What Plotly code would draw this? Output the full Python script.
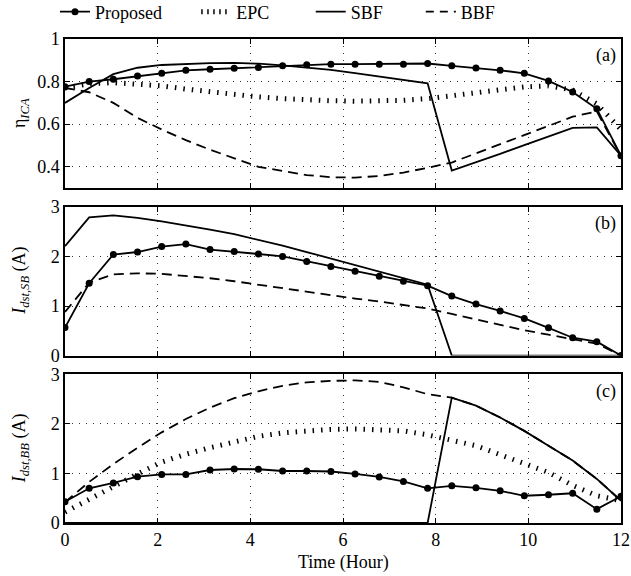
import plotly.graph_objects as go

# ---------------- data ----------------
n_pts = 24
time_h = [i * 12 / 23 for i in range(n_pts)]  # sample times (hours)

# panel (a): eta_ICA
prop_a = [0.776, 0.800, 0.811, 0.826, 0.839, 0.853, 0.858, 0.863, 0.866, 0.874, 0.879, 0.882,
          0.882, 0.882, 0.882, 0.885, 0.874, 0.864, 0.853, 0.839, 0.803, 0.751, 0.672, 0.452]
epc_a = [0.770, 0.790, 0.795, 0.790, 0.780, 0.765, 0.752, 0.740, 0.728, 0.720, 0.713, 0.710,
         0.708, 0.708, 0.712, 0.720, 0.735, 0.750, 0.765, 0.775, 0.780, 0.760, 0.695, 0.575]
sbf_a = [0.700, 0.770, 0.835, 0.865, 0.878, 0.884, 0.887, 0.888, 0.884, 0.876, 0.866, 0.855,
         0.840, 0.824, 0.808, 0.792, 0.382, 0.420, 0.461, 0.502, 0.543, 0.583, 0.585, 0.452]
bbf_a = [0.770, 0.750, 0.700, 0.630, 0.575, 0.525, 0.480, 0.440, 0.400, 0.380, 0.361, 0.351,
         0.349, 0.357, 0.373, 0.395, 0.420, 0.463, 0.506, 0.549, 0.592, 0.635, 0.660, 0.450]

# panel (b): I_dst,SB (A)
prop_b = [0.565, 1.46, 2.04, 2.09, 2.20, 2.25, 2.14, 2.10, 2.05, 2.00, 1.90, 1.80,
          1.70, 1.60, 1.50, 1.41, 1.20, 1.04, 0.90, 0.75, 0.56, 0.36, 0.28, 0.00]
sbf_b = [2.21, 2.79, 2.83, 2.78, 2.71, 2.63, 2.54, 2.45, 2.34, 2.22, 2.09, 1.96,
         1.83, 1.70, 1.57, 1.43, 0.00, 0.00, 0.00, 0.00, 0.00, 0.00, 0.00, 0.00]
bbf_b = [0.88, 1.47, 1.64, 1.66, 1.65, 1.61, 1.56, 1.50, 1.43, 1.35, 1.28, 1.22,
         1.15, 1.09, 1.02, 0.95, 0.84, 0.73, 0.62, 0.51, 0.42, 0.33, 0.24, 0.00]

# panel (c): I_dst,BB (A)
prop_c = [0.43, 0.70, 0.81, 0.935, 0.98, 0.98, 1.07, 1.09, 1.085, 1.05, 1.05, 1.04,
          0.99, 0.93, 0.84, 0.70, 0.75, 0.71, 0.65, 0.55, 0.57, 0.60, 0.28, 0.54]
epc_c = [0.22, 0.48, 0.75, 0.99, 1.23, 1.39, 1.52, 1.64, 1.75, 1.82, 1.86, 1.89,
         1.90, 1.89, 1.86, 1.78, 1.67, 1.56, 1.38, 1.19, 1.02, 0.76, 0.55, 0.45]
sbf_c = [0.00, 0.00, 0.00, 0.00, 0.00, 0.00, 0.00, 0.00, 0.00, 0.00, 0.00, 0.00,
         0.00, 0.00, 0.00, 0.00, 2.53, 2.37, 2.13, 1.86, 1.56, 1.26, 0.89, 0.45]
bbf_c = [0.42, 0.83, 1.19, 1.52, 1.83, 2.10, 2.33, 2.52, 2.66, 2.77, 2.84, 2.87,
         2.88, 2.85, 2.74, 2.60, 2.53, 2.37, 2.13, 1.86, 1.56, 1.26, 0.89, 0.45]

x_ticks = [0, 2, 4, 6, 8, 10, 12]
series_names = ["Proposed", "EPC", "SBF", "BBF"]
panel_labels = ["(a)", "(b)", "(c)"]

# ---------------- figure ----------------
FONT = "Liberation Serif, Times New Roman, serif"
FS = 18
fig = go.Figure()

panels = [
    ("x", "y", prop_a, epc_a, sbf_a, bbf_a),
    ("x2", "y2", prop_b, None, sbf_b, bbf_b),
    ("x3", "y3", prop_c, epc_c, sbf_c, bbf_c),
]

BBF_LINE = dict(color="black", width=1.8, dash="10px,6px")
SBF_LINE = dict(color="black", width=1.8)
EPC_LINE = dict(color="black", width=5, dash="1.5px,7px")
PROP_LINE = dict(color="black", width=1.8)
PROP_MARK = dict(color="black", size=7)

for k, (xa, ya, pr, ep, sb, bb) in enumerate(panels):
    fig.add_trace(go.Scatter(x=time_h, y=bb, xaxis=xa, yaxis=ya, mode="lines", name="BBF",
                             line=BBF_LINE, showlegend=False))
    fig.add_trace(go.Scatter(x=time_h, y=sb, xaxis=xa, yaxis=ya, mode="lines", name="SBF",
                             line=SBF_LINE, showlegend=False))
    if ep is not None:
        fig.add_trace(go.Scatter(x=time_h, y=ep, xaxis=xa, yaxis=ya, mode="lines", name="EPC",
                                 line=EPC_LINE, showlegend=False))
    fig.add_trace(go.Scatter(x=time_h, y=pr, xaxis=xa, yaxis=ya, mode="lines+markers",
                             name="Proposed", line=PROP_LINE, marker=PROP_MARK,
                             showlegend=False))

# legend-only traces, each in its own legend box
fig.add_trace(go.Scatter(x=[None], y=[None], mode="lines+markers", name=series_names[0],
                         line=PROP_LINE, marker=PROP_MARK, legend="legend"))
fig.add_trace(go.Scatter(x=[None], y=[None], mode="lines", name=series_names[1],
                         line=dict(color="black", width=5, dash="1.5px,4.5px"), legend="legend2"))
fig.add_trace(go.Scatter(x=[None], y=[None], mode="lines", name=series_names[2],
                         line=SBF_LINE, legend="legend3"))
fig.add_trace(go.Scatter(x=[None], y=[None], mode="lines", name=series_names[3],
                         line=dict(color="black", width=1.8, dash="8px,6px"), legend="legend4"))

axis_common = dict(showline=True, linecolor="black", linewidth=1.5, mirror="ticks",
                   ticks="inside", ticklen=5, tickcolor="black",
                   showgrid=True, gridcolor="#333333", gridwidth=1, griddash="1px,6px",
                   zeroline=False, tickfont=dict(family=FONT, size=FS, color="black"))

domains = [[0.692, 1.0], [0.346, 0.653], [0.0, 0.307]]
yranges = [[0.3, 1.0], [0, 3], [0, 3]]
yticks = [[0.4, 0.6, 0.8, 1.0], [0, 1, 2, 3], [0, 1, 2, 3]]
yticktext = [["0.4", "0.6", "0.8", "1"], ["0", "1", "2", "3"], ["0", "1", "2", "3"]]

for k in range(3):
    sfx = "" if k == 0 else str(k + 1)
    fig.layout["xaxis" + sfx] = dict(axis_common, range=[0, 12], tickvals=x_ticks,
                                     showticklabels=(k == 2), anchor="y" + sfx,
                                     domain=[0, 1])
    fig.layout["yaxis" + sfx] = dict(axis_common, range=yranges[k], tickvals=yticks[k],
                                     ticktext=yticktext[k], domain=domains[k],
                                     anchor="x" + sfx)
    fig.add_annotation(text=panel_labels[k], xref="x%s domain" % sfx, yref="y%s domain" % sfx,
                       x=0.995, y=0.97, xanchor="right", yanchor="top", showarrow=False,
                       font=dict(family=FONT, size=FS, color="black"))

ytitles = ["η<sub><i>ICA</i></sub>",
           "<i>I</i><sub><i>dst,SB</i></sub> (A)",
           "<i>I</i><sub><i>dst,BB</i></sub> (A)"]
for k in range(3):
    fig.add_annotation(text=ytitles[k], xref="paper", yref="paper",
                       x=-0.080, y=(domains[k][0] + domains[k][1]) / 2,
                       xanchor="center", yanchor="middle", textangle=-90, showarrow=False,
                       font=dict(family=FONT, size=FS, color="black"))

fig.add_annotation(text="Time (Hour)", xref="paper", yref="paper", x=0.5, y=-0.081,
                   xanchor="center", yanchor="middle", showarrow=False,
                   font=dict(family=FONT, size=FS, color="black"))

leg_common = dict(orientation="h", yref="container", y=1 - 12 / 576, xanchor="left",
                  yanchor="middle", font=dict(family=FONT, size=FS, color="black"),
                  bgcolor="rgba(0,0,0,0)")

fig.update_layout(
    width=631, height=576,
    margin=dict(l=65, r=10, t=39, b=53, autoexpand=False),
    paper_bgcolor="white", plot_bgcolor="white",
    font=dict(family=FONT, size=FS, color="black"),
    legend=dict(leg_common, x=-0.018),
    legend2=dict(leg_common, x=0.236),
    legend3=dict(leg_common, x=0.442),
    legend4=dict(leg_common, x=0.640),
)

# remove the default page margin so the figure fills the window exactly
fig.write_html("out.html", config={"displayModeBar": False},
               post_script="document.body.style.margin='0';")
